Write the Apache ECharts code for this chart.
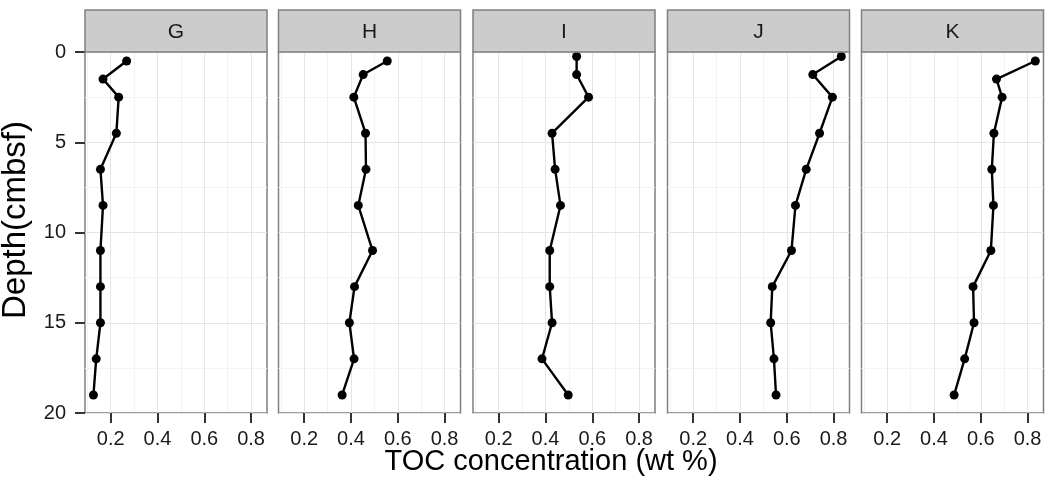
<!DOCTYPE html>
<html>
<head>
<meta charset="utf-8">
<script src="https://cdn.jsdelivr.net/npm/echarts@6/dist/echarts.min.js"></script>
<style>
  html, body { margin: 0; padding: 0; background: #fff; }
  #chart { width: 1048px; height: 484px; }
</style>
</head>
<body>
<div id="chart"></div>
<script>
// core names (facets)
var cores = ['G', 'H', 'I', 'J', 'K'];

// depth (cmbsf) of each sample, per core
var depthG = [0.5, 1.5, 2.5, 4.5, 6.5, 8.5, 11, 13, 15, 17, 19];
var depthH = [0.5, 1.25, 2.5, 4.5, 6.5, 8.5, 11, 13, 15, 17, 19];
var depthI = [0.25, 1.25, 2.5, 4.5, 6.5, 8.5, 11, 13, 15, 17, 19];
var depthJ = [0.25, 1.25, 2.5, 4.5, 6.5, 8.5, 11, 13, 15, 17, 19];
var depthK = [0.5, 1.5, 2.5, 4.5, 6.5, 8.5, 11, 13, 15, 17, 19];

// TOC concentration (wt %), per core
var tocG = [0.268, 0.167, 0.234, 0.224, 0.156, 0.167, 0.156, 0.156, 0.156, 0.138, 0.126];
var tocH = [0.555, 0.452, 0.412, 0.462, 0.464, 0.431, 0.492, 0.415, 0.393, 0.413, 0.362];
var tocI = [0.533, 0.533, 0.584, 0.428, 0.441, 0.464, 0.418, 0.418, 0.428, 0.385, 0.497];
var tocJ = [0.833, 0.711, 0.795, 0.740, 0.683, 0.637, 0.620, 0.538, 0.531, 0.545, 0.554];
var tocK = [0.833, 0.667, 0.691, 0.656, 0.647, 0.654, 0.643, 0.567, 0.571, 0.531, 0.486];

// axis breaks
var xTicks = [0.2, 0.4, 0.6, 0.8];
var xMinor = [0.1, 0.3, 0.5, 0.7];

var depths = [depthG, depthH, depthI, depthJ, depthK];
var tocs = [tocG, tocH, tocI, tocJ, tocK];

var font = '"Liberation Sans", Arial, Helvetica, sans-serif';
var panelLeft = [85, 278.5, 473, 667.5, 861.5];
var panelW = 182, panelTop = 52, panelH = 361;
var xMin = 0.09, xMax = 0.868;
var n = cores.length;

var grids = [], xAxes = [], yAxes = [], series = [], graphics = [];

// visible panels: grid 0..4
cores.forEach(function (name, i) {
  grids.push({
    left: panelLeft[i], top: panelTop, width: panelW, height: panelH,
    show: true, borderColor: '#7f7f7f', borderWidth: 1.5, backgroundColor: 'transparent', z: 3
  });
  xAxes.push({
    type: 'value', gridIndex: i, min: xMin, max: xMax, position: 'bottom',
    axisLine: { show: false, onZero: false },
    axisTick: { show: true, length: 10, customValues: xTicks, lineStyle: { color: '#333', width: 2 } },
    axisLabel: { customValues: xTicks, margin: 16, color: '#1a1a1a', fontSize: 20, fontFamily: font,
      formatter: function (v) { return v.toFixed(1); } },
    splitLine: { show: true, lineStyle: { color: '#e5e5e5', width: 1 } },
    z: 3
  });
  yAxes.push({
    type: 'value', gridIndex: i, inverse: true, min: 0, max: 20, interval: 5, position: 'left',
    axisLine: { show: false, onZero: false },
    axisTick: { show: i === 0, length: 10, lineStyle: { color: '#333', width: 2 } },
    axisLabel: { show: i === 0, margin: 19, color: '#1a1a1a', fontSize: 20, fontFamily: font },
    splitLine: { show: true, lineStyle: { color: '#e5e5e5', width: 1 } },
    minorTick: { show: false, splitNumber: 2 },
    minorSplitLine: { show: true, lineStyle: { color: '#f3f3f3', width: 1 } },
    z: 3
  });
  series.push({
    name: name, type: 'line',
    xAxisIndex: i, yAxisIndex: i,
    data: tocs[i].map(function (v, k) { return [v, depths[i][k]]; }),
    symbol: 'circle', symbolSize: 9,
    lineStyle: { color: '#000', width: 2.4 },
    itemStyle: { color: '#000' },
    z: 5
  });
  // facet strip
  graphics.push({
    type: 'rect', z: 10,
    shape: { x: panelLeft[i], y: 10, width: panelW, height: panelTop - 10 },
    style: { fill: '#cccccc', stroke: '#7f7f7f', lineWidth: 1.5 }
  });
  graphics.push({
    type: 'text', z: 11,
    x: panelLeft[i] + panelW / 2, y: 32,
    style: { text: name, fill: '#1a1a1a', font: '21px ' + font, textAlign: 'center', textVerticalAlign: 'middle' }
  });
});

// hidden overlay grids 5..9 for the minor x grid lines
cores.forEach(function (name, i) {
  grids.push({ left: panelLeft[i], top: panelTop, width: panelW, height: panelH, show: false, z: 1 });
  xAxes.push({
    type: 'value', gridIndex: n + i, min: xMin, max: xMax, position: 'bottom',
    axisLine: { show: false, onZero: false },
    axisTick: { show: false, customValues: xMinor },
    axisLabel: { show: false, customValues: xMinor },
    splitLine: { show: true, lineStyle: { color: '#f3f3f3', width: 1 } },
    z: 1
  });
  yAxes.push({
    type: 'value', gridIndex: n + i, min: 0, max: 20, show: false,
    axisLine: { onZero: false }
  });
});

// axis titles
graphics.push({
  type: 'text', x: 551, y: 462,
  style: { text: 'TOC concentration (wt %)', fill: '#000', font: '29px ' + font, textAlign: 'center', textVerticalAlign: 'middle' }
});
graphics.push({
  type: 'text', x: 16, y: 220, rotation: Math.PI / 2,
  style: { text: 'Depth(cmbsf)', fill: '#000', font: '33px ' + font, textAlign: 'center', textVerticalAlign: 'middle' }
});

var chart = echarts.init(document.getElementById('chart'), null, { renderer: 'canvas' });
chart.setOption({
  animation: false,
  backgroundColor: '#fff',
  grid: grids,
  xAxis: xAxes,
  yAxis: yAxes,
  series: series,
  graphic: graphics
});
</script>
</body>
</html>
